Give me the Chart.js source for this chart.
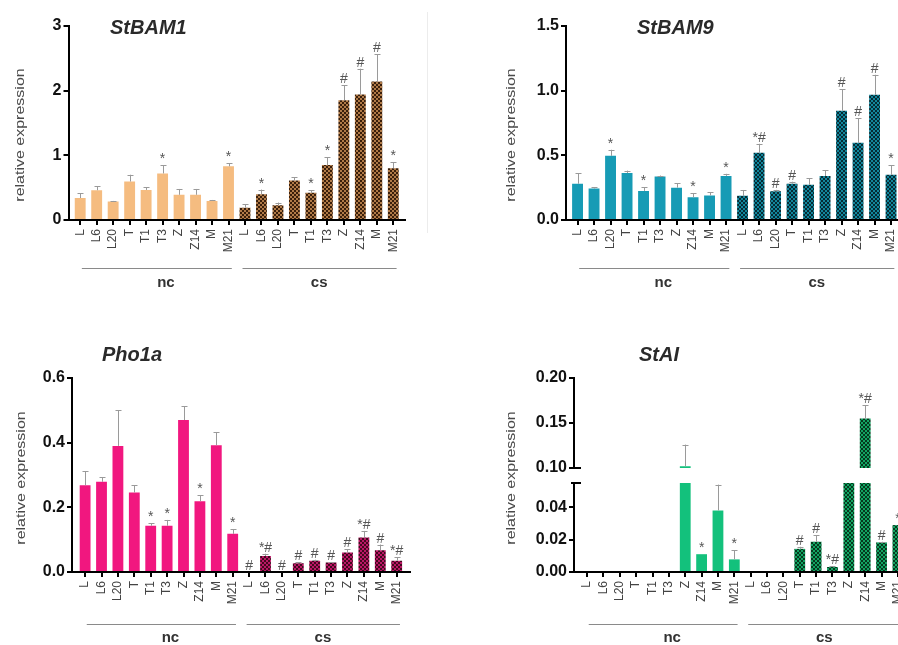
<!DOCTYPE html>
<html>
<head>
<meta charset="utf-8">
<script src="https://cdn.jsdelivr.net/npm/chart.js@4.4.0/dist/chart.umd.min.js"></script>
<style>
  html, body { margin: 0; padding: 0; background: #fff; }
  body { width: 898px; height: 645px; position: relative; overflow: hidden; }
  canvas { position: absolute; }
  #sep { position: absolute; left: 427px; top: 12px; width: 1px; height: 221px; background: #ececec; }
</style>
</head>
<body>
<div id="sep"></div>
<canvas id="bam1"></canvas>
<canvas id="bam9"></canvas>
<canvas id="pho1a"></canvas>
<canvas id="staiLow"></canvas>
<canvas id="staiTop"></canvas>
<script>
const stages = ['L', 'L6', 'L20', 'T', 'T1', 'T3', 'Z', 'Z14', 'M', 'M21'];
const xLabels = stages.concat(stages);
const groups = ['nc', 'cs'];

// StBAM1
const bam1Nc    = [0.34, 0.46, 0.285, 0.595, 0.465, 0.72, 0.39, 0.39, 0.295, 0.83];
const bam1NcErr = [0.07, 0.06, 0.01, 0.105, 0.045, 0.13, 0.09, 0.09, 0.015, 0.05];
const bam1NcSig = ['', '', '', '', '', '*', '', '', '', '*'];
const bam1Cs    = [0.19, 0.40, 0.23, 0.61, 0.42, 0.85, 1.85, 1.94, 2.14, 0.80];
const bam1CsErr = [0.055, 0.07, 0.04, 0.05, 0.04, 0.12, 0.23, 0.40, 0.42, 0.09];
const bam1CsSig = ['', '*', '', '', '*', '*', '#', '#', '#', '*'];
const bam1Ticks = [0, 1, 2, 3];

// StBAM9
const bam9Nc    = [0.28, 0.243, 0.496, 0.364, 0.225, 0.336, 0.25, 0.176, 0.19, 0.341];
const bam9NcErr = [0.08, 0.01, 0.047, 0.018, 0.028, 0.008, 0.034, 0.031, 0.024, 0.016];
const bam9NcSig = ['', '', '*', '', '*', '', '', '*', '', '*'];
const bam9Cs    = [0.187, 0.52, 0.222, 0.281, 0.273, 0.34, 0.845, 0.597, 0.968, 0.35];
const bam9CsErr = [0.045, 0.069, 0.011, 0.015, 0.05, 0.045, 0.167, 0.188, 0.155, 0.074];
const bam9CsSig = ['', '*#', '#', '#', '', '', '#', '#', '#', '*'];
const bam9Ticks = [0, 0.5, 1.0, 1.5];

// Pho1a
const pho1aNc    = [0.268, 0.279, 0.39, 0.246, 0.143, 0.143, 0.47, 0.219, 0.392, 0.118];
const pho1aNcErr = [0.044, 0.014, 0.111, 0.023, 0.008, 0.018, 0.042, 0.019, 0.041, 0.015];
const pho1aNcSig = ['', '', '', '', '*', '*', '', '*', '', '*'];
const pho1aCs    = [0, 0.0495, 0, 0.027, 0.035, 0.029, 0.060, 0.107, 0.067, 0.035];
const pho1aCsErr = [0, 0.007, 0, 0.003, 0.003, 0.002, 0.01, 0.02, 0.018, 0.01];
const pho1aCsSig = ['#', '*#', '#', '#', '#', '#', '#', '*#', '#', '*#'];
const pho1aTicks = [0, 0.2, 0.4, 0.6];

// StAI (broken y axis)
const staiNc    = [0, 0, 0, 0, 0, 0, 0.102, 0.011, 0.038, 0.0078];
const staiNcErr = [0, 0, 0, 0, 0, 0, 0.024, 0, 0.016, 0.0056];
const staiNcSig = ['', '', '', '', '', '', '', '*', '', '*'];
const staiCs    = [0, 0, 0, 0.0143, 0.0187, 0.0031, 0.08, 0.155, 0.0183, 0.029];
const staiCsErr = [0, 0, 0, 0.0013, 0.004, 0.0005, 0, 0.015, 0.0004, 0];
const staiCsSig = ['', '', '', '#', '#', '*#', '', '*#', '#', '*'];
const staiTopTicks = [0.10, 0.15, 0.20];
const staiLowTicks = [0, 0.02, 0.04];
const staiLowMax = 0.055;

Chart.defaults.font.family = 'Arial, "Liberation Sans", Helvetica, sans-serif';

const Y_W = 50;
const X_H = 45;

function checker(dark, light) {
  const c = document.createElement('canvas');
  c.width = 4; c.height = 4;
  const g = c.getContext('2d');
  g.fillStyle = light;
  g.fillRect(0, 0, 4, 4);
  g.fillStyle = dark;
  g.fillRect(0, 0, 2, 2);
  g.fillRect(2, 2, 2, 2);
  return g.createPattern(c, 'repeat');
}

function decor(p, values, errs, sigs) {
  const bx = p.box.x, by = p.box.y;
  return {
    id: 'decor',
    afterDatasetsDraw(chart) {
      const ctx = chart.ctx;
      const a = chart.chartArea;
      const ys = chart.scales.y;
      const meta = chart.getDatasetMeta(0);
      ctx.save();
      ctx.beginPath();
      ctx.rect(a.left, a.top, a.right - a.left, a.bottom - a.top);
      ctx.clip();
      ctx.strokeStyle = '#9a9a9a';
      ctx.lineWidth = 1;
      ctx.fillStyle = '#555';
      ctx.font = '14px Arial, "Liberation Sans", sans-serif';
      ctx.textAlign = 'center';
      ctx.textBaseline = 'alphabetic';
      meta.data.forEach((bar, i) => {
        const x = Math.round(bar.x) + 0.5;
        const y0 = ys.getPixelForValue(values[i]);
        const y1 = ys.getPixelForValue(values[i] + errs[i]);
        if (errs[i] > 0) {
          ctx.beginPath();
          ctx.moveTo(x, y0);
          ctx.lineTo(x, y1);
          ctx.moveTo(x - 3, Math.round(y1) + 0.5);
          ctx.lineTo(x + 3, Math.round(y1) + 0.5);
          ctx.stroke();
        }
        if (sigs[i]) ctx.fillText(sigs[i], bar.x, y1 - 2);
      });
      ctx.restore();
    },
    afterDraw(chart) {
      const ctx = chart.ctx;
      const a = chart.chartArea;
      const xs = chart.scales.x;
      ctx.save();
      if (p.title) {
        ctx.font = 'italic bold 20px Arial, "Liberation Sans", sans-serif';
        ctx.fillStyle = '#2a2a2a';
        ctx.textAlign = 'left';
        ctx.textBaseline = 'middle';
        ctx.fillText(p.title, p.titlePos[0] - bx, p.titlePos[1] - by);
      }
      if (p.yTitlePos) {
        ctx.save();
        ctx.translate(p.yTitlePos[0] - bx, p.yTitlePos[1] - by);
        ctx.rotate(-Math.PI / 2);
        ctx.scale(1, 0.75);
        ctx.font = '16px Arial, "Liberation Sans", sans-serif';
        ctx.fillStyle = '#4a4a4a';
        ctx.textAlign = 'center';
        ctx.textBaseline = 'middle';
        ctx.fillText('relative expression', 0, 0);
        ctx.restore();
      }
      if (p.groupY) {
        const spans = [[0.1, 9.2, 5.2], [9.85, 19.2, 14.5]];
        ctx.strokeStyle = '#8a8a8a';
        ctx.lineWidth = 1;
        ctx.font = 'bold 15px Arial, "Liberation Sans", sans-serif';
        ctx.fillStyle = '#333';
        ctx.textAlign = 'center';
        ctx.textBaseline = 'middle';
        spans.forEach((s, g) => {
          const ly = p.groupY[0] - by + 0.5;
          ctx.beginPath();
          ctx.moveTo(xs.getPixelForValue(s[0]), ly);
          ctx.lineTo(xs.getPixelForValue(s[1]), ly);
          ctx.stroke();
          ctx.fillText(groups[g], xs.getPixelForValue(s[2]), p.groupY[1] - by);
        });
      }
      ctx.strokeStyle = '#000';
      ctx.lineWidth = 2;
      if (p.breakBottom) {
        ctx.beginPath();
        ctx.moveTo(a.left, a.bottom);
        ctx.lineTo(a.left + 7, a.bottom);
        ctx.stroke();
      }
      if (p.breakTop) {
        ctx.beginPath();
        ctx.moveTo(a.left - 3, a.top);
        ctx.lineTo(a.left + 7, a.top);
        ctx.stroke();
      }
      ctx.restore();
    }
  };
}

function makeChart(p) {
  const cv = document.getElementById(p.id);
  cv.width = p.box.w;
  cv.height = p.box.h;
  cv.style.left = p.box.x + 'px';
  cv.style.top = p.box.y + 'px';

  const values = p.nc.concat(p.cs);
  const errs = p.ncErr.concat(p.csErr);
  const sigs = p.ncSig.concat(p.csSig);
  const colors = p.nc.map(() => p.color).concat(p.cs.map(() => p.pattern));
  const pad = {
    left: p.area.l - p.box.x - Y_W,
    top: p.area.t - p.box.y,
    right: p.box.x + p.box.w - p.area.r,
    bottom: p.box.y + p.box.h - p.area.b - (p.showX ? X_H : 0)
  };

  new Chart(cv, {
    type: 'bar',
    data: {
      datasets: [{
        data: values.map((v, i) => ({ x: i, y: v })),
        backgroundColor: colors,
        borderWidth: 0,
        barPercentage: 0.66,
        categoryPercentage: 1,
        clip: 0
      }]
    },
    options: {
      responsive: false,
      animation: false,
      layout: { padding: pad },
      plugins: { legend: { display: false }, tooltip: { enabled: false } },
      scales: {
        x: {
          type: 'linear',
          display: p.showX,
          min: -p.xPad,
          max: 19 + p.xPad,
          offset: false,
          afterBuildTicks: s => { s.ticks = xLabels.map((_, i) => ({ value: i })); },
          afterFit: s => { if (p.showX) s.height = X_H; },
          ticks: {
            autoSkip: false,
            maxRotation: 90,
            minRotation: 90,
            padding: 4,
            color: '#444',
            font: { size: 12 },
            callback: v => xLabels[Math.round(v)]
          },
          grid: { offset: false, drawOnChartArea: false, drawTicks: true, tickLength: 5, color: '#000', lineWidth: 2 },
          border: { display: true, color: '#000', width: 2 }
        },
        y: {
          min: p.ticks[0],
          max: p.yMax !== undefined ? p.yMax : p.ticks[p.ticks.length - 1],
          beginAtZero: false,
          afterBuildTicks: s => { s.ticks = p.ticks.map(v => ({ value: v })); },
          afterFit: s => { s.width = Y_W; },
          ticks: {
            color: '#111',
            padding: 2,
            font: { size: 16, weight: 'bold' },
            callback: v => Number(v).toFixed(p.dec)
          },
          grid: { drawOnChartArea: false, drawTicks: true, tickLength: 5, color: '#000', lineWidth: 2 },
          border: { display: true, color: '#000', width: 2 }
        }
      }
    },
    plugins: [decor(p, values, errs, sigs)]
  });
}

makeChart({
  id: 'bam1', box: { x: 0, y: 0, w: 449, h: 320 }, area: { l: 68.5, t: 26, r: 405, b: 220 },
  xPad: 0.71, showX: true, ticks: bam1Ticks, dec: 0,
  nc: bam1Nc, ncErr: bam1NcErr, ncSig: bam1NcSig, cs: bam1Cs, csErr: bam1CsErr, csSig: bam1CsSig,
  color: '#F5BC80', pattern: checker('#3a1f0b', '#b07a48'),
  title: 'StBAM1', titlePos: [110, 28], yTitlePos: [21, 135], groupY: [268, 283]
});

makeChart({
  id: 'bam9', box: { x: 449, y: 0, w: 470, h: 320 }, area: { l: 566, t: 26, r: 902.6, b: 220 },
  xPad: 0.7, showX: true, ticks: bam9Ticks, dec: 1,
  nc: bam9Nc, ncErr: bam9NcErr, ncSig: bam9NcSig, cs: bam9Cs, csErr: bam9CsErr, csSig: bam9CsSig,
  color: '#179BB5', pattern: checker('#052c35', '#12869c'),
  title: 'StBAM9', titlePos: [637, 28], yTitlePos: [512, 135], groupY: [268, 283]
});

makeChart({
  id: 'pho1a', box: { x: 0, y: 320, w: 449, h: 325 }, area: { l: 72, t: 378, r: 409.8, b: 572 },
  xPad: 0.8, showX: true, ticks: pho1aTicks, dec: 1,
  nc: pho1aNc, ncErr: pho1aNcErr, ncSig: pho1aNcSig, cs: pho1aCs, csErr: pho1aCsErr, csSig: pho1aCsSig,
  color: '#F1177F', pattern: checker('#45071f', '#bb1766'),
  title: 'Pho1a', titlePos: [102, 355], yTitlePos: [22, 478], groupY: [624, 638]
});

makeChart({
  id: 'staiTop', box: { x: 449, y: 320, w: 480, h: 160 }, area: { l: 574, t: 378, r: 911, b: 468 },
  xPad: 0.8, showX: false, ticks: staiTopTicks, dec: 2,
  nc: staiNc, ncErr: staiNcErr, ncSig: staiNcSig, cs: staiCs, csErr: staiCsErr, csSig: staiCsSig,
  color: '#13C17C', pattern: checker('#053a1e', '#12a463'),
  title: 'StAI', titlePos: [639, 355], breakBottom: true
});

makeChart({
  id: 'staiLow', box: { x: 449, y: 320, w: 480, h: 325 }, area: { l: 574, t: 483, r: 911, b: 572 },
  xPad: 0.8, showX: true, ticks: staiLowTicks, yMax: staiLowMax, dec: 2,
  nc: staiNc, ncErr: staiNcErr, ncSig: staiNcSig, cs: staiCs, csErr: staiCsErr, csSig: staiCsSig,
  color: '#13C17C', pattern: checker('#053a1e', '#12a463'),
  yTitlePos: [512, 478], groupY: [624, 638], breakTop: true
});
</script>
</body>
</html>
